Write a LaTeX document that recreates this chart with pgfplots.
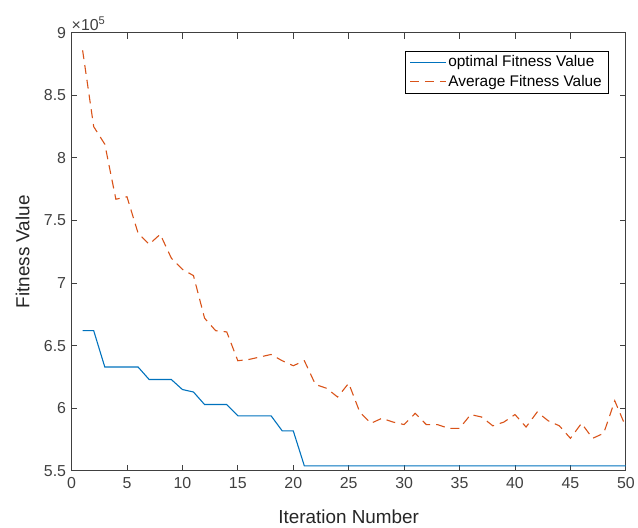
\documentclass[border=0pt]{standalone}
\usepackage{fontspec}
\setmainfont{Liberation Sans}
\usepackage{pgfplots}
\pgfplotsset{compat=1.18}

\definecolor{mblue}{rgb}{0,0.447,0.741}
\definecolor{morange}{rgb}{0.85,0.325,0.098}
\definecolor{axgray}{gray}{0.25}

\begin{document}
\begin{tikzpicture}
\begin{axis}[
    name=ax,
    scale only axis,
    width=558pt, height=441pt,
    xmin=0, xmax=50, ymin=5.5, ymax=9,
    xtick={0,5,...,50},
    ytick={5.5,6,6.5,7,7.5,8,8.5,9},
    yticklabel style={/pgf/number format/fixed, /pgf/number format/precision=1},
    /pgf/number format/assume math mode=true,
    tick align=inside,
    major tick length=6pt,
    axis line style={axgray, line width=0.9pt},
    every tick/.style={axgray, line width=0.9pt},
    tick label style={font=\fontsize{16}{18}\selectfont, text=axgray},
    xticklabel style={yshift=-3pt},
    yticklabel style={xshift=-2pt},
    xlabel={Iteration Number},
    ylabel={Fitness Value},
    label style={font=\fontsize{19}{22}\selectfont, text=black!85},
    xlabel style={at={(axis description cs:0.5,-0.105)}, anchor=center},
    ylabel style={at={(axis description cs:-0.088,0.5)}, anchor=center},
    legend cell align=left,
    legend style={at={(1,1)}, anchor=north east, xshift=-18pt, yshift=-18pt,
        font=\fontsize{15.5}{18}\selectfont,
        inner xsep=4pt, inner ysep=3pt, row sep=3pt,
        /tikz/every even column/.append style={column sep=3pt}},
    legend image post style={xscale=2.1, line width=1.3pt},
]
\addplot[mblue, line width=1.1pt] coordinates {
(1,6.62)(2,6.62)(3,6.33)(4,6.33)(5,6.33)(6,6.33)
(7,6.23)(8,6.23)(9,6.23)(10,6.15)(11,6.13)(12,6.03)
(13,6.03)(14,6.03)(15,5.94)(16,5.94)(17,5.94)(18,5.94)
(19,5.82)(20,5.82)(21,5.54)(22,5.54)(23,5.54)(24,5.54)
(25,5.54)(26,5.54)(27,5.54)(28,5.54)(29,5.54)(30,5.54)
(31,5.54)(32,5.54)(33,5.54)(34,5.54)(35,5.54)(36,5.54)
(37,5.54)(38,5.54)(39,5.54)(40,5.54)(41,5.54)(42,5.54)
(43,5.54)(44,5.54)(45,5.54)(46,5.54)(47,5.54)(48,5.54)
(49,5.54)(50,5.54)
};
\addlegendentry{optimal Fitness Value}
\addplot[morange, line width=1.1pt, dash pattern=on 9pt off 6pt] coordinates {
(1,8.86)(2,8.25)(3,8.11)(4,7.67)(5,7.69)(6,7.40)
(7,7.31)(8,7.39)(9,7.20)(10,7.11)(11,7.06)(12,6.72)
(13,6.62)(14,6.61)(15,6.38)(16,6.39)(17,6.41)(18,6.43)
(19,6.38)(20,6.34)(21,6.38)(22,6.19)(23,6.16)(24,6.09)
(25,6.20)(26,5.97)(27,5.88)(28,5.92)(29,5.89)(30,5.87)
(31,5.96)(32,5.87)(33,5.87)(34,5.84)(35,5.84)(36,5.95)
(37,5.93)(38,5.86)(39,5.89)(40,5.95)(41,5.85)(42,5.97)
(43,5.90)(44,5.86)(45,5.76)(46,5.88)(47,5.76)(48,5.80)
(49,6.06)(50,5.85)
};
\addlegendentry{Average Fitness Value}
\end{axis}
\node[anchor=south west, inner sep=0pt, yshift=2pt,
      font=\fontsize{16}{18}\selectfont, text=axgray]
  at (ax.north west) {×10\textsuperscript{5}};
\path (ax.south west) ++(-72pt,-57pt) coordinate (bl);
\path (ax.north east) ++(6pt,33pt) coordinate (tr);
\end{tikzpicture}
\end{document}
